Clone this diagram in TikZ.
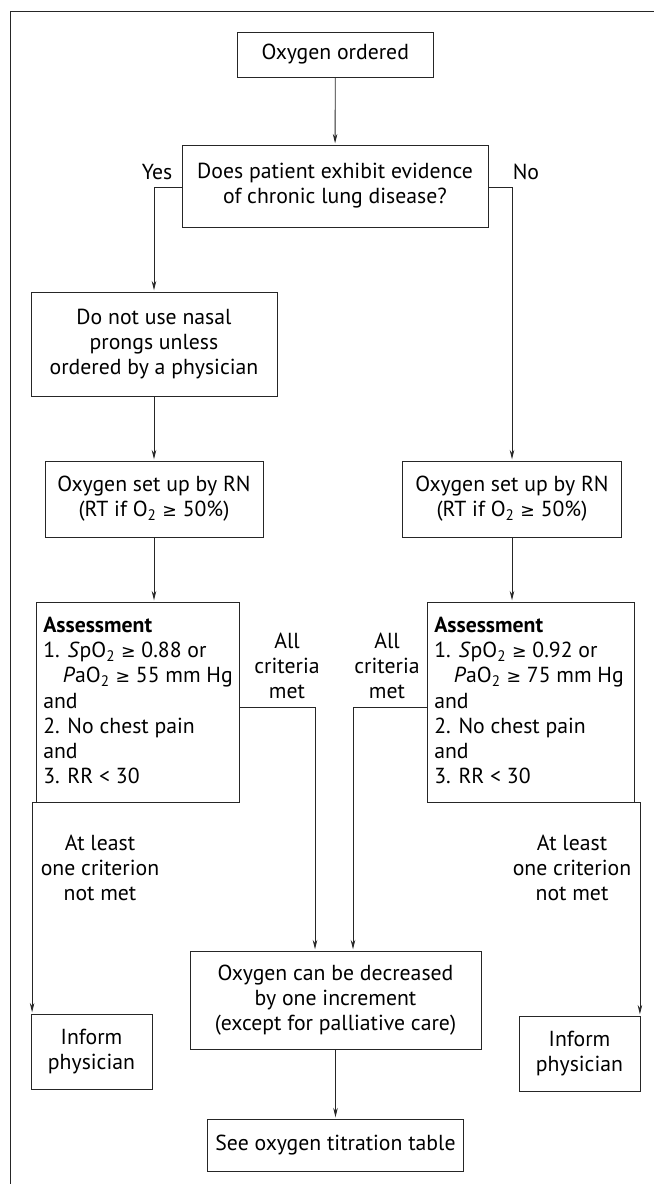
\documentclass[tikz,border=0pt]{standalone}
\usepackage{fontspec}
\setmainfont{PT Sans}
\newfontfamily\dejavu[Scale=0.8]{DejaVu Sans}
\newcommand\geqs{{\dejavu ≥}}
\usetikzlibrary{arrows.meta,calc}
\begin{document}
\begin{tikzpicture}[x=0.75pt,y=-0.75pt,
  font=\fontsize{16.3}{18.9}\selectfont,
  box/.style={draw=black!85, line width=0.6pt, align=center, inner sep=0pt},
  lbl/.style={align=center, inner sep=0pt},
  arr/.style={draw=black!85, line width=0.6pt, -{Stealth[length=7pt,width=3.4pt]}, shorten >=1pt},
  ln/.style={draw=black!85, line width=0.6pt}]
\useasboundingbox (0,0) rectangle (653,1184);
% frame
\draw[ln] (10,1200) -- (10,11) -- (670,11);
% nodes
\node[box, minimum width=146.6pt, minimum height=33.75pt] (top) at (335.25,54.5) {Oxygen ordered};
\node[box, minimum width=229.5pt, minimum height=61.5pt] (q) at (335,186) {Does patient exhibit evidence\\of chronic lung disease?};
\node[box, minimum width=184.5pt, minimum height=78pt] (dn) at (154,344) {Do not use nasal\\prongs unless\\ordered by a physician};
\node[box, minimum width=163.5pt, minimum height=57pt] (sl) at (154,499) {Oxygen set up by RN\\(RT if O\textsubscript{2} \geqs{} 50\%)};
\node[box, minimum width=164.25pt, minimum height=57pt] (sr) at (512,499) {Oxygen set up by RN\\(RT if O\textsubscript{2} \geqs{} 50\%)};
\node[box, minimum width=152.25pt, minimum height=150pt] (al) at (137.5,702) {};
\node[box, minimum width=155.25pt, minimum height=150pt] (ar) at (530.5,702) {};
\node[lbl, anchor=north west, align=left] (alt) at (43,617) {\textbf{Assessment}\\
1. \textit{S}pO\textsubscript{2} \geqs{} 0.88 or\\
\hspace*{0.9em}\textit{P}aO\textsubscript{2} \geqs{} 55 mm Hg\\
and\\
2. No chest pain\\
and\\
3. RR < 30};
\node[lbl, anchor=north west, align=left] (art) at (434,617) {\textbf{Assessment}\\
1. \textit{S}pO\textsubscript{2} \geqs{} 0.92 or\\
\hspace*{0.9em}\textit{P}aO\textsubscript{2} \geqs{} 75 mm Hg\\
and\\
2. No chest pain\\
and\\
3. RR < 30};
\node[box, minimum width=218.25pt, minimum height=73.5pt] (dec) at (335.5,1000) {Oxygen can be decreased\\by one increment\\(except for palliative care)};
\node[box, minimum width=192pt, minimum height=39pt] (see) at (335.5,1145) {See oxygen titration table};
\node[box, minimum width=90.75pt, minimum height=56.25pt] (il) at (91.5,1051.5) {Inform\\physician};
\node[box, minimum width=90.75pt, minimum height=56.25pt] (ir) at (579.5,1053.5) {Inform\\physician};
% labels
\node[lbl] (yes) at (157,172) {Yes};
\node[lbl] (no) at (526,172) {No};
\node[lbl] (acl) at (287,666) {All\\criteria\\met};
\node[lbl] (acr) at (387,666) {All\\criteria\\met};
\node[lbl] (nml) at (100,868) {At least\\one criterion\\not met};
\node[lbl] (nmr) at (572,868) {At least\\one criterion\\not met};
% connectors
\draw[arr] (top) -- (q);
\draw[arr] ($(q.west)+(0,1)$) -| (dn.north);
\draw[arr] ($(q.east)+(0,1)$) -| (sr.north);
\draw[arr] (dn) -- (sl);
\draw[arr] (sl.south) -- (sl.south |- al.north);
\draw[arr] (sr.south) -- (sr.south |- ar.north);
\draw[arr] ($(al.east)+(0,5)$) -| ($(dec.north)+(-20.5,0)$);
\draw[arr] ($(ar.west)+(0,5)$) -| ($(dec.north)+(17.5,0)$);
\coordinate (lc) at ($(al.south west)+(-3.5,0)$);
\draw[arr] (al.south west) -- (lc) -- (lc |- il.north);
\coordinate (rc) at ($(ar.south east)+(5.5,0)$);
\draw[arr] (ar.south east) -- (rc) -- (rc |- ir.north);
\draw[arr] (dec) -- (see);
\end{tikzpicture}
\end{document}
